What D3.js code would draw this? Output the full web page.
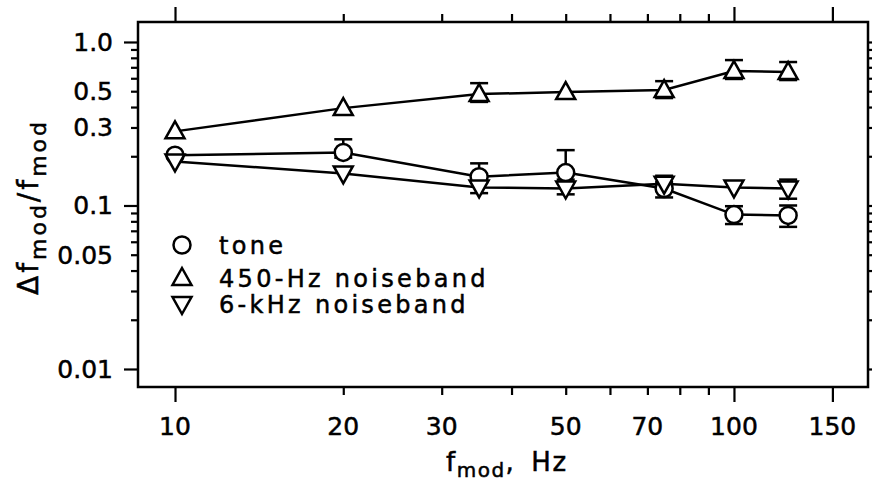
<!DOCTYPE html>
<html>
<head>
<meta charset="utf-8">
<script src="https://cdn.jsdelivr.net/npm/d3@7"></script>
<style>
  body { margin: 0; background: white; }
  svg { display: block; }
  text { font-family: "DejaVu Sans", sans-serif; fill: black;
         stroke: black; stroke-width: 0.5px; }
</style>
</head>
<body>
<script>
// Modulation frequencies (Hz)
var freqs = [10, 20, 35, 50, 75, 100, 125];

// tone
var toneVals  = [0.203, 0.211, 0.150, 0.159, 0.127, 0.088, 0.087];
var toneErrUp = [0, 0.043, 0.031, 0.059, 0.012, 0.011, 0.013];
var toneErrDn = [0, 0.015, 0.012, 0.015, 0.015, 0.011, 0.013];

// 450-Hz noiseband
var nb450Vals  = [0.284, 0.394, 0.480, 0.494, 0.508, 0.664, 0.655];
var nb450ErrUp = [0, 0, 0.080, 0, 0.068, 0.111, 0.099];
var nb450ErrDn = [0, 0, 0.050, 0, 0.054, 0.070, 0.070];

// 6-kHz noiseband
var nb6kVals  = [0.186, 0.157, 0.129, 0.127, 0.136, 0.129, 0.127];
var nb6kErrUp = [0, 0, 0.010, 0.010, 0.016, 0, 0.017];
var nb6kErrDn = [0, 0, 0.010, 0.010, 0.010, 0, 0.017];

// Axis ticks
var xLabelTicks = [10, 20, 30, 50, 70, 100, 150];
var xMajorTicks = [10, 100, 150];
var xMinorTicks = [20, 30, 40, 50, 60, 70, 80, 90];
var yLabelTicks = [1.0, 0.5, 0.3, 0.1, 0.05, 0.01];
var yLabelText  = ["1.0", "0.5", "0.3", "0.1", "0.05", "0.01"];
var yMajorTicks = [1, 0.1, 0.01];
var yMinorTicks = [0.9, 0.8, 0.7, 0.6, 0.5, 0.4, 0.3, 0.2,
                   0.09, 0.08, 0.07, 0.06, 0.05, 0.04, 0.03, 0.02];

var legendNames = ["tone", "450-Hz noiseband", "6-kHz noiseband"];

var w = 872, h = 482;
// plot box (note: "top" is taken by window.top, so use m* names)
var mLeft = 138, mRight = 868, mTop = 22, mBottom = 387;

var x = d3.scaleLog().domain([8.586, 173.7]).range([mLeft, mRight]);
var y = d3.scaleLog().domain([0.00776, 1.325]).range([mBottom, mTop]);

var svg = d3.select("body").append("svg")
    .attr("width", w)
    .attr("height", h);

// symbol paths
var upTri = "M0,-10L9.5,7L-9.5,7Z";
var dnTri = "M0,10L9.5,-7L-9.5,-7Z";

//==============================================
// Axes: long and short ticks on all four sides

function drawAxis(axisFn, scale, ticks, size, transform) {
    svg.append("g")
       .attr("transform", transform)
       .call(axisFn(scale).tickValues(ticks).tickSize(size)
             .tickFormat(""))
       .call(function(g) {
           g.select(".domain").remove();
           g.selectAll("line").attr("stroke", "black")
            .attr("stroke-width", 2.2);
       });
}

drawAxis(d3.axisBottom, x, xMajorTicks, 15, "translate(0," + mBottom + ")");
drawAxis(d3.axisBottom, x, xMinorTicks, 8, "translate(0," + mBottom + ")");
drawAxis(d3.axisTop, x, xMajorTicks, 15, "translate(0," + mTop + ")");
drawAxis(d3.axisTop, x, xMinorTicks, 8, "translate(0," + mTop + ")");
drawAxis(d3.axisLeft, y, yMajorTicks, 14, "translate(" + mLeft + ",0)");
drawAxis(d3.axisLeft, y, yMinorTicks, 7, "translate(" + mLeft + ",0)");
drawAxis(d3.axisRight, y, yMajorTicks, 14, "translate(" + mRight + ",0)");
drawAxis(d3.axisRight, y, yMinorTicks, 7, "translate(" + mRight + ",0)");

// frame
svg.append("rect")
   .attr("x", mLeft).attr("y", mTop)
   .attr("width", mRight - mLeft).attr("height", mBottom - mTop)
   .attr("fill", "none")
   .attr("stroke", "black")
   .attr("stroke-width", 2.5);

// tick labels
svg.selectAll("text.xlab")
   .data(xLabelTicks)
   .enter().append("text")
   .attr("class", "xlab")
   .attr("x", function(d) { return x(d); })
   .attr("y", 435)
   .attr("text-anchor", "middle")
   .style("font-size", "25px")
   .text(function(d) { return d; });

svg.selectAll("text.ylab")
   .data(yLabelTicks)
   .enter().append("text")
   .attr("class", "ylab")
   .attr("x", 113)
   .attr("y", function(d) { return y(d) + 9; })
   .attr("text-anchor", "end")
   .style("font-size", "25px")
   .text(function(d, i) { return yLabelText[i]; });

// axis titles
var xt = svg.append("text")
    .attr("x", 446).attr("y", 471)
    .style("font-size", "26px")
    .style("letter-spacing", "1.5px");
xt.append("tspan").text("f");
xt.append("tspan").attr("dy", 6).style("font-size", "20px").text("mod");
xt.append("tspan").attr("dy", -6).text(",");
xt.append("tspan").attr("dx", 16).text("Hz");

var yt = svg.append("text")
    .attr("transform", "translate(38,207) rotate(-90)")
    .attr("text-anchor", "middle")
    .style("font-size", "28px")
    .style("letter-spacing", "3px");
yt.append("tspan").text("\u0394f");
yt.append("tspan").attr("dy", 8).style("font-size", "22px").text("mod");
yt.append("tspan").attr("dy", -8).text("/f");
yt.append("tspan").attr("dy", 8).style("font-size", "22px").text("mod");

//==============================================
// Data series

var series = [
    {vals: toneVals, up: toneErrUp, dn: toneErrDn, sym: "circle"},
    {vals: nb450Vals, up: nb450ErrUp, dn: nb450ErrDn, sym: upTri},
    {vals: nb6kVals, up: nb6kErrUp, dn: nb6kErrDn, sym: dnTri}
];

var line = d3.line()
    .x(function(d) { return x(d[0]); })
    .y(function(d) { return y(d[1]); });

function pts(s) {
    return freqs.map(function(f, i) {
        return [f, s.vals[i], s.up[i], s.dn[i]];
    });
}

// connecting lines
series.forEach(function(s) {
    svg.append("path")
       .attr("d", line(pts(s)))
       .attr("fill", "none")
       .attr("stroke", "black")
       .attr("stroke-width", 2.5);
});

// error bars
series.forEach(function(s) {
    var g = svg.append("g")
        .attr("stroke", "black")
        .attr("stroke-width", 2.5);
    pts(s).forEach(function(p) {
        var cx = x(p[0]);
        if (p[2] > 0) {
            var yu = y(p[1] + p[2]);
            g.append("line").attr("x1", cx).attr("x2", cx)
             .attr("y1", y(p[1])).attr("y2", yu);
            g.append("line").attr("x1", cx - 9).attr("x2", cx + 9)
             .attr("y1", yu).attr("y2", yu);
        }
        if (p[3] > 0) {
            var yd = y(p[1] - p[3]);
            g.append("line").attr("x1", cx).attr("x2", cx)
             .attr("y1", y(p[1])).attr("y2", yd);
            g.append("line").attr("x1", cx - 9).attr("x2", cx + 9)
             .attr("y1", yd).attr("y2", yd);
        }
    });
});

// symbols
function drawSymbol(g, sym, cx, cy) {
    if (sym == "circle") {
        g.append("circle").attr("cx", cx).attr("cy", cy).attr("r", 8.5);
    } else {
        g.append("path").attr("d", sym)
         .attr("transform", "translate(" + cx + "," + cy + ")");
    }
}

series.forEach(function(s) {
    var g = svg.append("g")
        .attr("fill", "white")
        .attr("stroke", "black")
        .attr("stroke-width", 2.5);
    pts(s).forEach(function(p) {
        drawSymbol(g, s.sym, x(p[0]), y(p[1]));
    });
});

// legend
var legY = [245, 278, 304];
series.forEach(function(s, i) {
    var g = svg.append("g")
        .attr("fill", "white")
        .attr("stroke", "black")
        .attr("stroke-width", 2.5);
    drawSymbol(g, s.sym, 182, legY[i]);
    svg.append("text")
       .attr("x", 219)
       .attr("y", legY[i] + 9)
       .style("font-size", "24px")
       .style("letter-spacing", "3.3px")
       .text(legendNames[i]);
});
</script>
</body>
</html>
